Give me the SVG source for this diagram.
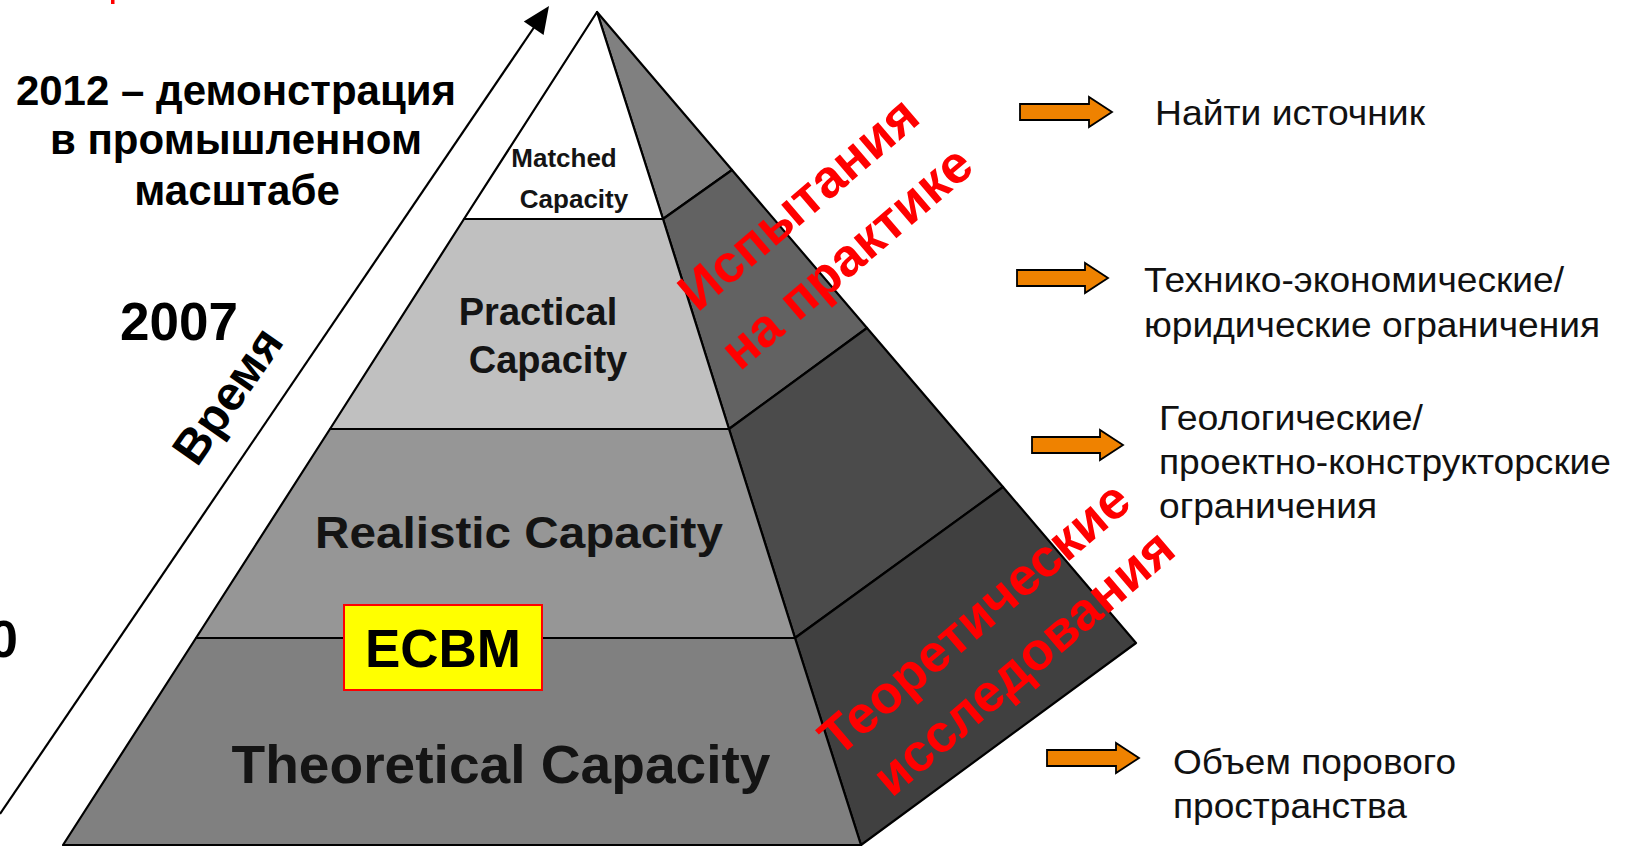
<svg xmlns="http://www.w3.org/2000/svg" width="1626" height="846" viewBox="0 0 1626 846">
<defs>
<style>
.edge{stroke:#000;stroke-width:2.2;stroke-linejoin:round}
.lbl{font-family:"Liberation Sans",Arial,sans-serif;font-weight:bold;fill:#141414;text-anchor:middle}
.title{font-family:"Liberation Sans",Arial,sans-serif;font-weight:bold;fill:#000;text-anchor:middle}
.red{font-family:"Liberation Sans",Arial,sans-serif;font-weight:bold;fill:#ff0000;text-anchor:middle;font-size:53px}
.note{font-family:"Liberation Sans",Arial,sans-serif;font-size:35px;fill:#111}
.oarrow{fill:#ef8200;stroke:#000;stroke-width:1.8;stroke-linejoin:miter}
</style>
</defs>
<rect width="1626" height="846" fill="#fff"/>
<rect x="111" y="0" width="3.5" height="4" fill="#ff0000"/>

<g id="pyramid-side">
<polygon class="edge" fill="#808080" points="597,12 732,170 663,219"/>
<polygon class="edge" fill="#626262" points="663,219 732,170 867,328 729,429"/>
<polygon class="edge" fill="#4b4b4b" points="729,429 867,328 1003,487 795,638"/>
<polygon class="edge" fill="#404040" points="795,638 1003,487 1136,643 861,845"/>
</g>

<g id="matched-capacity">
<polygon class="edge" fill="#ffffff" points="597,12 464,219 663,219"/>
<text class="lbl" x="564" y="167" font-size="26" fill="#222">Matched</text>
<text class="lbl" x="574" y="208" font-size="26" fill="#222">Capacity</text>
</g>

<g id="practical-capacity">
<polygon class="edge" fill="#c0c0c0" points="464,219 663,219 729,429 330,429"/>
<text class="lbl" x="538" y="325" font-size="38">Practical</text>
<text class="lbl" x="548" y="373" font-size="38">Capacity</text>
</g>

<g id="realistic-capacity">
<polygon class="edge" fill="#969696" points="330,429 729,429 795,638 196,638"/>
<text class="lbl" x="519" y="548" font-size="44" textLength="408" lengthAdjust="spacingAndGlyphs">Realistic Capacity</text>
</g>

<g id="theoretical-capacity">
<polygon class="edge" fill="#808080" points="196,638 795,638 861,845 63,845"/>
<text class="lbl" x="501" y="783" font-size="54" textLength="539" lengthAdjust="spacingAndGlyphs">Theoretical Capacity</text>
</g>

<g id="ecbm">
<rect x="344" y="605" width="198" height="85" fill="#ffff00" stroke="#ff0000" stroke-width="2"/>
<text class="title" x="443" y="667" font-size="53">ECBM</text>
</g>

<g id="red-labels">
<text class="red" transform="translate(810,217) rotate(-40.5)">Испытания</text>
<text class="red" transform="translate(858,271) rotate(-40.5)">на практике</text>
<text class="red" transform="translate(986,632) rotate(-40.5)">Теоретические</text>
<text class="red" transform="translate(1035,676) rotate(-40.5)">исследования</text>
</g>

<g id="timeline-labels">
<text class="title" font-size="42"><tspan x="236" y="105">2012 – демонстрация</tspan><tspan x="236" y="154">в промышленном</tspan><tspan x="237" y="205">масштабе</tspan></text>
<text class="title" x="179" y="340" font-size="53">2007</text>
<text class="title" x="-11" y="657" font-size="52" style="text-anchor:start">0</text>
<text class="title" font-size="48" transform="translate(241,405) rotate(-55)">Время</text>
</g>

<g id="connectors">
<line x1="0" y1="814" x2="537" y2="23" stroke="#000" stroke-width="2.2"/>
<polygon points="549,6 543.6,35 523.8,21.4" fill="#000"/>
<polygon class="oarrow" points="1020,104 1089,104 1089,97 1112,112 1089,127 1089,120 1020,120"/>
<polygon class="oarrow" points="1017,270 1085,270 1085,263 1108,278 1085,293 1085,286 1017,286"/>
<polygon class="oarrow" points="1032,437 1100,437 1100,430 1123,445 1100,460 1100,453 1032,453"/>
<polygon class="oarrow" points="1047,750 1116,750 1116,743 1139,758 1116,773 1116,766 1047,766"/>
</g>

<g id="note-source">
<text class="note" x="1155" y="125" textLength="270" lengthAdjust="spacingAndGlyphs">Найти источник</text>
</g>
<g id="note-economic">
<text class="note" x="1144" y="292" textLength="420" lengthAdjust="spacingAndGlyphs">Технико-экономические/</text>
<text class="note" x="1144" y="337" textLength="456" lengthAdjust="spacingAndGlyphs">юридические ограничения</text>
</g>
<g id="note-geologic">
<text class="note" x="1159" y="430" textLength="264" lengthAdjust="spacingAndGlyphs">Геологические/</text>
<text class="note" x="1159" y="474" textLength="452" lengthAdjust="spacingAndGlyphs">проектно-конструкторские</text>
<text class="note" x="1159" y="518" textLength="218" lengthAdjust="spacingAndGlyphs">ограничения</text>
</g>
<g id="note-pore">
<text class="note" x="1173" y="774" textLength="283" lengthAdjust="spacingAndGlyphs">Объем порового</text>
<text class="note" x="1173" y="818" textLength="234" lengthAdjust="spacingAndGlyphs">пространства</text>
</g>
</svg>
